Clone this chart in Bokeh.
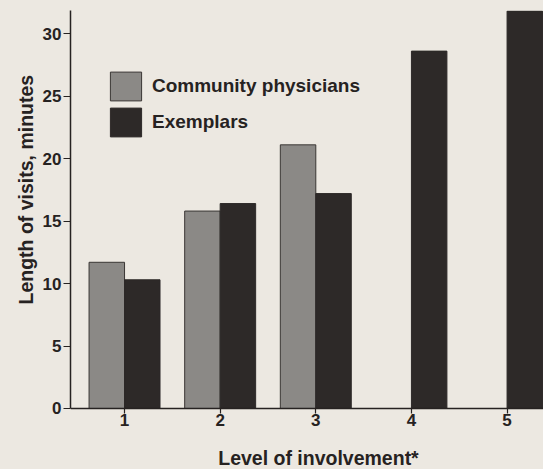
from bokeh.plotting import figure
from bokeh.models import ColumnDataSource, Range1d, Title, Label, Legend, LegendItem
from bokeh.transform import dodge
from bokeh.embed import file_html
from bokeh.resources import INLINE

# ---- data ----
community_levels = [1, 2, 3]
community_minutes = [11.7, 15.8, 21.1]
exemplar_levels = [1, 2, 3, 4, 5]
exemplar_minutes = [10.3, 16.4, 17.2, 28.6, 31.8]
x_ticks = [1, 2, 3, 4, 5]
y_ticks = [0, 5, 10, 15, 20, 25, 30]
series_names = ["Community physicians", "Exemplars"]
x_title = "Level of involvement*"
y_title = "Length of visits, minutes"

# ---- style ----
BG = "#ece8e1"
INK = "#262221"
GRAY = "#8b8986"
DARK = "#2d2928"
FONT = "Liberation Sans"
BAR_W = 0.371
Y_TOP = 31.85
Y_BOTTOM = -4.882   # room below the x axis (inside the frame) for the axis title

p = figure(width=543, height=469, output_backend="svg", toolbar_location=None,
           x_range=Range1d(0.435, 5.381), y_range=Range1d(Y_BOTTOM, Y_TOP),
           min_border_left=70, min_border_right=0, min_border_top=10, min_border_bottom=0)
p.background_fill_color = BG
p.border_fill_color = BG
p.outline_line_color = None
p.grid.visible = False

src_c = ColumnDataSource(dict(level=community_levels, minutes=community_minutes))
src_e = ColumnDataSource(dict(level=exemplar_levels, minutes=exemplar_minutes))

r_c = p.vbar(x=dodge("level", -BAR_W / 2, range=p.x_range), top="minutes", bottom=0,
             width=BAR_W, source=src_c, fill_color=GRAY, line_color="#3a3634", line_width=1)
r_e = p.vbar(x=dodge("level", BAR_W / 2, range=p.x_range), top="minutes", bottom=0,
             width=BAR_W, source=src_e, fill_color=DARK, line_color=DARK, line_width=1)

for ax in (p.xaxis[0], p.yaxis[0]):
    ax.axis_line_color = INK
    ax.axis_line_width = 1.5
    ax.major_tick_line_color = INK
    ax.major_tick_line_width = 1.2
    ax.major_tick_in = 0
    ax.minor_tick_line_color = None
    ax.major_label_text_font = FONT
    ax.major_label_text_font_style = "bold"
    ax.major_label_text_font_size = "17px"
    ax.major_label_text_color = INK

p.xaxis.ticker = x_ticks
p.xaxis.fixed_location = 0
p.xaxis.major_tick_out = 5
p.xaxis.major_label_standoff = 1
p.yaxis.ticker = y_ticks
p.yaxis.bounds = (0, Y_TOP)
p.yaxis.major_tick_out = 7
p.yaxis.major_label_standoff = 2

# y title as a side title, shifted up like the original
p.add_layout(Title(text=y_title, align="left", offset=165, standoff=6,
                   text_font=FONT, text_font_style="bold", text_font_size="19.5px",
                   text_color=INK), "left")
# x title below the axis
p.add_layout(Label(x=3.028, y=-3.95, text=x_title,
                   text_align="center", text_baseline="middle",
                   text_font=FONT, text_font_style="bold", text_font_size="19.5px",
                   text_color=INK))

legend = Legend(items=[LegendItem(label=series_names[0], renderers=[r_c]),
                       LegendItem(label=series_names[1], renderers=[r_e])],
                location=(36, 329), orientation="vertical",
                padding=0, margin=0, spacing=0,
                glyph_width=39, glyph_height=36, label_height=36, label_standoff=7,
                label_text_font=FONT, label_text_font_style="bold",
                label_text_font_size="19px", label_text_color=INK,
                border_line_color=None, background_fill_alpha=0)
p.add_layout(legend)

html = file_html(p, INLINE)
html = html.replace("<body>", '<body style="background:%s">' % BG)
open("out.html", "w").write(html)
